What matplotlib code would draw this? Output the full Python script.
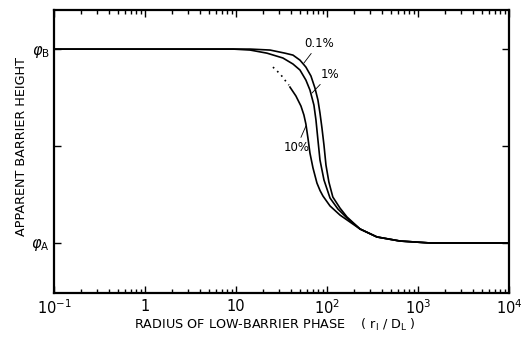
import numpy as np
import matplotlib
matplotlib.use("Agg")
import matplotlib.pyplot as plt
from matplotlib.ticker import LogLocator, NullFormatter

plt.rcParams['font.family'] = ['DejaVu Sans']

# radius r1/DL and apparent barrier height (0 = phi_A, 1 = phi_B)
r_01 = [0.1, 14.3, 23.7, 34.5, 42.3, 50.5, 58.7, 66.7, 73.8, 79.6, 83.8, 88.1, 92.7,
        97.5, 105, 116, 139, 166, 231, 354, 634, 1355, 10000]
h_01 = [1.0, 1.0, 0.995, 0.979, 0.969, 0.943, 0.907, 0.861, 0.799, 0.737, 0.670, 0.593, 0.505,
        0.402, 0.314, 0.237, 0.180, 0.134, 0.072, 0.031, 0.010, 0.0, 0.0]

r_1 = [0.1, 9.27, 14.3, 21.9, 32.8, 42.3, 50.5, 58.7, 65.0, 71.9, 75.7, 79.6, 83.8, 92.7,
       108, 132, 166, 231, 354, 634, 1355, 10000]
h_1 = [1.0, 1.0, 0.995, 0.979, 0.954, 0.923, 0.892, 0.840, 0.789, 0.711, 0.634, 0.531, 0.428,
       0.325, 0.232, 0.175, 0.129, 0.072, 0.031, 0.010, 0.0, 0.0]

r_10_dot = [25.5, 28.3, 31.3, 34.5, 38.2]
h_10_dot = [0.907, 0.887, 0.866, 0.840, 0.814]
r_10 = [39.2, 45.6, 51.8, 55.8, 58.7, 61.8, 65.0, 70.2, 77.6, 84.0, 90.4, 108, 139, 179, 231,
        354, 634, 1355, 10000]
h_10 = [0.804, 0.758, 0.706, 0.660, 0.613, 0.541, 0.464, 0.387, 0.309, 0.270, 0.242, 0.191,
        0.144, 0.108, 0.072, 0.031, 0.010, 0.0, 0.0]

xtick_vals = [0.1, 1, 10, 100, 1000, 10000]
xtick_labels = [r'$10^{-1}$', '1', '10', r'$10^{2}$', r'$10^{3}$', r'$10^{4}$']
ytick_vals = [0, 0.5, 1]
ytick_labels = [r'$\varphi_{\mathrm{A}}$', '', r'$\varphi_{\mathrm{B}}$']

fig = plt.figure(figsize=(5.22, 3.37), dpi=100)
ax = fig.add_axes([0.1034, 0.1306, 0.8716, 0.8394])

ax.plot(r_01, h_01, color='black', lw=1.2)
ax.plot(r_1, h_1, color='black', lw=1.2)
ax.plot(r_10, h_10, color='black', lw=1.2)
ax.plot(r_10_dot, h_10_dot, color='black', lw=1.2, linestyle=(0, (1, 2.5)))

ax.set_xscale('log')
ax.set_xlim(0.1, 1e4)
ax.set_ylim(-0.258, 1.201)

ax.set_xticks(xtick_vals)
ax.set_xticklabels(xtick_labels)
ax.xaxis.set_minor_locator(LogLocator(base=10, subs=np.arange(2, 10)))
ax.xaxis.set_minor_formatter(NullFormatter())
ax.set_yticks(ytick_vals)
ax.set_yticklabels(ytick_labels)

ax.tick_params(which='major', direction='in', length=5, width=1, top=True, right=True,
               labelsize=10.5, pad=4)
ax.tick_params(axis='y', pad=3, labelsize=10.5)
ax.tick_params(which='minor', direction='in', length=3, width=1, top=True, right=True)
for s in ax.spines.values():
    s.set_linewidth(1.6)

fig.text(0.527, 0.036,
         r'RADIUS OF LOW-BARRIER PHASE    ( r$_{\mathrm{I}}$ / D$_{\mathrm{L}}$ )',
         fontsize=9.2, ha='center', va='center')
fig.text(0.042, 0.564, 'APPARENT BARRIER HEIGHT', fontsize=9.2, rotation=90,
         ha='center', va='center')

# curve labels with leader lines
arrow = dict(arrowstyle='-', lw=0.6, color='black', shrinkA=1, shrinkB=0)
ax.annotate('0.1%', xy=(55.8, 0.928), xytext=(82, 1.031), fontsize=8.5,
            ha='center', va='center', arrowprops=arrow)
ax.annotate('1%', xy=(68.4, 0.773), xytext=(108, 0.871), fontsize=8.5,
            ha='center', va='center', arrowprops=arrow)
ax.annotate('10%', xy=(58.7, 0.603), xytext=(46, 0.49), fontsize=8.5,
            ha='center', va='center', arrowprops=arrow)

fig.savefig('out.png', dpi=100)
